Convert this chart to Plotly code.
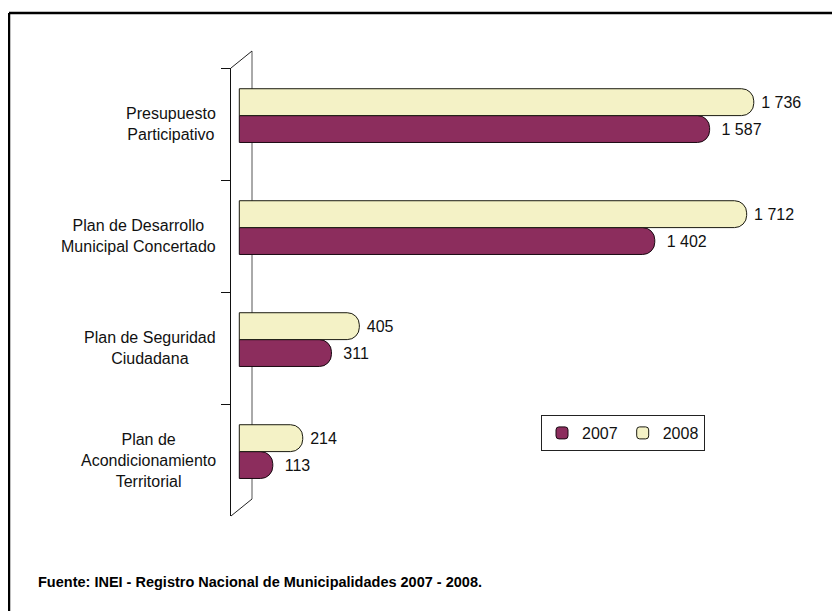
import plotly.graph_objects as go

categories = ["Presupuesto<br>Participativo",
              "Plan de Desarrollo<br>Municipal Concertado",
              "Plan de Seguridad<br>Ciudadana",
              "Plan de<br>Acondicionamiento<br>Territorial"]
values_2007 = [1587, 1402, 311, 113]
values_2008 = [1736, 1712, 405, 214]
labels_2007 = ["1 587", "1 402", "311", "113"]
labels_2008 = ["1 736", "1 712", "405", "214"]
series_names = ["2007", "2008"]
source_note = "Fuente: INEI - Registro Nacional de Municipalidades 2007 - 2008."

FONT = "Liberation Sans, Arial, sans-serif"
C2007 = "#8C2D5D"
C2008 = "#F4F2C6"

# the page body has an 8px margin, so the figure is drawn 8px in
OFF = 8
W, H = 840 - OFF, 611 - OFF
L, T = 231 - OFF, 68 - OFF
R = W - (832 - OFF)
B = H - (516 - OFF)
PW, PH = W - L - R, H - T - B


def px_x(px):
    # screen pixel -> paper x
    return (px - OFF - L) / PW


def px_y(py):
    # screen pixel -> paper y
    return (H - B - (py - OFF)) / PH


fig = go.Figure()
fig.add_trace(go.Bar(y=categories, x=values_2007, orientation="h",
                     name=series_names[0], width=0.24, offset=-0.075,
                     marker=dict(color=C2007, cornerradius="45%",
                                 line=dict(color="#1a0a12", width=1)),
                     text=["\u00a0\u00a0" + t for t in labels_2007],
                     textposition="outside", cliponaxis=False,
                     textfont=dict(family=FONT, size=16, color="#111111")))
fig.add_trace(go.Bar(y=categories, x=values_2008, orientation="h",
                     name=series_names[1], width=0.24, offset=-0.315,
                     marker=dict(color=C2008, cornerradius="45%",
                                 line=dict(color="#1a1a10", width=1)),
                     text=["\u00a0" + t for t in labels_2008],
                     textposition="outside", cliponaxis=False,
                     textfont=dict(family=FONT, size=16, color="#111111")))

# category labels, centred lines like the original
for cat in categories:
    fig.add_annotation(x=px_x(218), xref="paper", y=cat, yref="y",
                       text=cat, showarrow=False, xanchor="right",
                       align="center",
                       font=dict(family=FONT, size=16, color="#111111"))

fig.add_annotation(x=px_x(36), xref="paper", y=px_y(582), yref="paper",
                   text=source_note, showarrow=False, xanchor="left",
                   yanchor="middle",
                   font=dict(family=FONT, size=14.5, color="#000000",
                             weight="bold"))

# pseudo 3d back wall of the category axis
dx, dy = 21, 17
shapes = [
    dict(type="line", xref="paper", yref="paper", x0=px_x(231 + dx), x1=px_x(231 + dx),
         y0=px_y(516 - dy), y1=px_y(68 - dy), line=dict(color="#555555", width=1),
         layer="below"),
    dict(type="line", xref="paper", yref="paper", x0=0, x1=px_x(231 + dx),
         y0=1, y1=px_y(68 - dy), line=dict(color="#222222", width=1)),
    dict(type="line", xref="paper", yref="paper", x0=0, x1=px_x(231 + dx),
         y0=0, y1=px_y(516 - dy), line=dict(color="#222222", width=1)),
    # outer chart frame (top and left edges visible)
    dict(type="line", xref="paper", yref="paper", x0=px_x(9), x1=px_x(850),
         y0=px_y(13), y1=px_y(13), line=dict(color="#000000", width=2.5)),
    dict(type="line", xref="paper", yref="paper", x0=px_x(9), x1=px_x(9),
         y0=px_y(13), y1=px_y(620), line=dict(color="#000000", width=2.5)),
]

fig.update_layout(
    width=W, height=H,
    margin=dict(l=L, r=R, t=T, b=B),
    plot_bgcolor="white", paper_bgcolor="white",
    barmode="group",
    shapes=shapes,
    showlegend=True,
    legend=dict(orientation="h", x=px_x(541), y=px_y(415),
                xanchor="left", yanchor="top", itemwidth=30,
                bordercolor="#222222", borderwidth=1, bgcolor="white",
                font=dict(family=FONT, size=16, color="#111111"),
                traceorder="normal"),
    font=dict(family=FONT, size=16, color="#111111"),
)
fig.update_xaxes(range=[-28, 2000], visible=False, showgrid=False, zeroline=False)
fig.update_yaxes(autorange="reversed", showticklabels=False, showgrid=False,
                 showline=True, linecolor="#111111", linewidth=1,
                 ticks="outside", ticklen=9, tickcolor="#111111",
                 tickson="boundaries")

fig.write_html("out.html")
